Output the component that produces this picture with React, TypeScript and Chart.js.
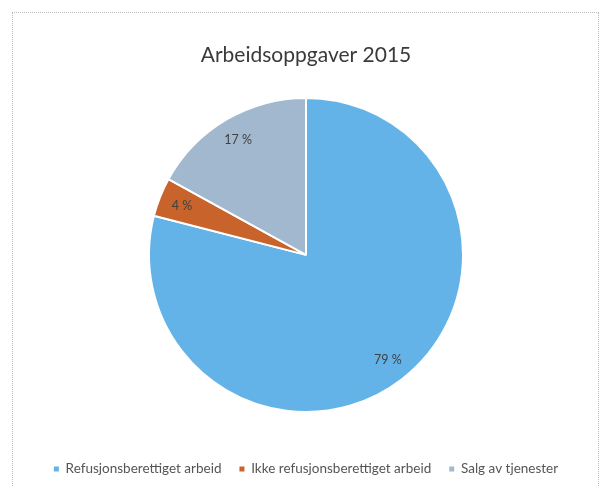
import React, { useEffect, useRef } from "react";
import { Chart, registerables } from "chart.js";

Chart.register(...registerables);

const titleText = "Arbeidsoppgaver 2015";
const categories = [
  "Refusjonsberettiget arbeid",
  "Ikke refusjonsberettiget arbeid",
  "Salg av tjenester",
];
const shares = [79, 4, 17];
const sliceColors = ["#64b3e8", "#c8632c", "#a2b8ce"];

const FONT = "Lato, 'Open Sans', sans-serif";

const percentLabels = {
  id: "percentLabels",
  afterDatasetsDraw(chart: any) {
    const ctx = chart.ctx;
    const meta = chart.getDatasetMeta(0);
    const data = chart.data.datasets[0].data as number[];
    ctx.save();
    ctx.font = `12.5px ${FONT}`;
    ctx.fillStyle = "#404040";
    ctx.textAlign = "center";
    ctx.textBaseline = "middle";
    meta.data.forEach((arc: any, i: number) => {
      const p = arc.getProps(["x", "y", "startAngle", "endAngle", "outerRadius"], true);
      const mid = (p.startAngle + p.endAngle) / 2;
      const r = p.outerRadius * 0.85;
      ctx.fillText(`${data[i]} %`, p.x + Math.cos(mid) * r, p.y + Math.sin(mid) * r);
    });
    ctx.restore();
  },
};

export default function App() {
  const ref = useRef<HTMLCanvasElement | null>(null);
  useEffect(() => {
    if (!ref.current) return;
    const chart = new Chart(ref.current, {
      type: "pie",
      data: {
        labels: categories,
        datasets: [
          {
            data: shares,
            backgroundColor: sliceColors,
            borderColor: "#ffffff",
            borderWidth: 2,
            radius: 157,
          } as any,
        ],
      },
      options: {
        responsive: false,
        animation: false,
        layout: { padding: { left: 12, right: 0, top: 0, bottom: 0.25 } },
        plugins: {
          title: {
            display: true,
            text: titleText,
            color: "#3a3a3a",
            font: { family: FONT, size: 21, weight: "normal", lineHeight: 1 },
            padding: { top: 44.5, bottom: 0 },
          },
          legend: {
            position: "bottom",
            labels: {
              color: "#555555",
              font: { family: FONT, size: 13.5 },
              boxWidth: 5,
              boxHeight: 5,
              padding: 18,
              generateLabels: (c: any) =>
                (Chart as any).overrides.pie.plugins.legend.labels
                  .generateLabels(c)
                  .map((it: any) => ({ ...it, lineWidth: 0 })),
            },
          },
          tooltip: { enabled: false },
        },
      },
      plugins: [percentLabels],
    });
    return () => chart.destroy();
  }, []);

  return (
    <div
      style={{
        position: "absolute",
        left: 0,
        top: 0,
        width: 600,
        height: 486,
        overflow: "hidden",
        background: "#ffffff",
      }}
    >
      <div
        style={{
          position: "absolute",
          left: 12,
          top: 12,
          width: 585,
          height: 490,
          border: "1px dotted #bdbdbd",
        }}
      />
      <canvas
        ref={ref}
        width={600}
        height={486}
        style={{ position: "absolute", left: 0, top: 0, width: 600, height: 486 }}
      />
    </div>
  );
}
